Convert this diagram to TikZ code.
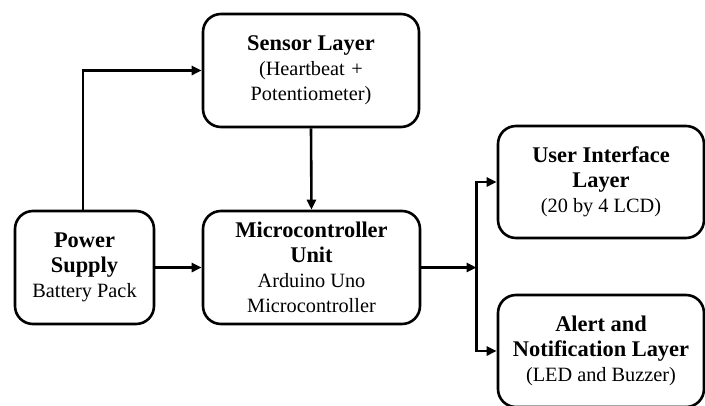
\documentclass[tikz,border=0pt]{standalone}
\usepackage{fontspec}
\setmainfont{Liberation Serif}
\usetikzlibrary{arrows.meta}
\newcommand{\ttl}[1]{{\fontsize{22.4}{25}\selectfont\bfseries #1}}
\newcommand{\sub}[1]{{\fontsize{20.3}{25}\selectfont #1}}
\begin{document}
\begin{tikzpicture}[x=1pt,y=-1pt,
  box/.style={draw=black, line width=2.6pt, rounded corners=18pt, fill=white,
    align=center, inner sep=0pt, font=\fontsize{20.3}{25}\selectfont},
  conn/.style={line width=2.6pt, -{Triangle[length=10pt,width=9pt]}},
  plain/.style={line width=2.6pt}]
\useasboundingbox (0,0) rectangle (705,405);
\fill[white] (0,0) rectangle (705,405);
\node[box, minimum width=139pt, minimum height=113pt] (P) at (84.5,267.5)
  {\ttl{Power}\\\ttl{Supply}\\Battery Pack};
\node[box, minimum width=216pt, minimum height=113pt] (S) at (311,70.5)
  {\ttl{Sensor Layer}\\(Heartbeat\,\,+\\Potentiometer)};
\node[box, minimum width=217pt, minimum height=113pt] (M) at (311.5,267.5)
  {\ttl{Microcontroller}\\\ttl{Unit}\\Arduino Uno\\Microcontroller};
\node[box, minimum width=206pt, minimum height=112pt] (U) at (601,182)
  {\ttl{User Interface}\\\ttl{Layer}\\(20 by 4 LCD)};
\node[box, minimum width=206pt, minimum height=112pt] (A) at (601,351)
  {\ttl{Alert and}\\\ttl{Notification Layer}\\(LED and Buzzer)};
\coordinate (bus) at (476.5,267.5);
\coordinate (pt) at ([xshift=-1.5pt]P.north);
\draw[conn] (pt) |- (S.west);
\draw[conn] (S.south) -- (M.north);
\draw[conn] (P.east) -- (M.west);
\draw[conn] (M.east) -- (bus);
\draw[conn] (bus) |- (U.west);
\draw[conn] (bus) |- (A.west);
\end{tikzpicture}
\end{document}
